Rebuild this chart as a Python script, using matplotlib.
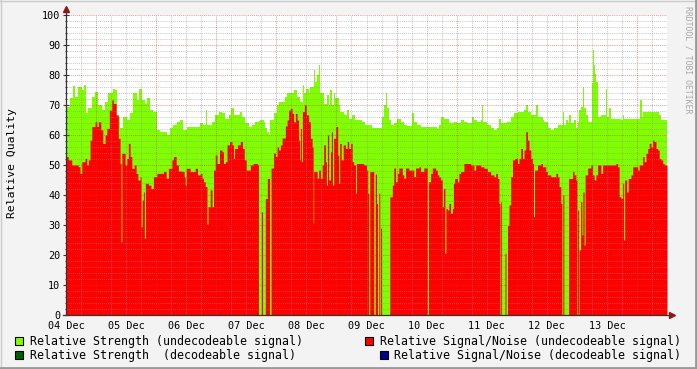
import matplotlib
matplotlib.use("Agg")
import matplotlib.pyplot as plt
from matplotlib.patches import Rectangle
from matplotlib.lines import Line2D
import numpy as np

# ---------------- data (hours since start of graph, ~04 Dec 12:00) ----------------
green_hours = [0.0, 1.6, 2.7, 3.6, 4.9, 6.3, 7.2, 8.0, 8.9, 10.3, 11.6, 12.9, 14.3, 15.6, 16.9, 18.7, 19.6,
               20.5, 21.6, 22.9, 24.3, 25.6, 26.9, 28.3, 29.3, 30.3, 31.6, 32.5, 33.6, 34.9, 36.3, 37.6,
               40.3, 41.6, 42.9, 44.3, 45.6, 46.9, 48.3, 53.6, 54.9, 55.9, 56.3, 58.3, 59.6, 60.9, 62.3,
               63.6, 64.9, 65.9, 66.9, 69.3, 70.3, 71.6, 72.9, 74.3, 75.6, 76.9, 77.6, 78.9, 79.6, 80.3,
               80.9, 81.6, 82.9, 84.3, 84.9, 87.6, 88.3, 90.9, 92.3, 93.6, 94.7, 95.2, 96.0, 96.9, 97.6,
               98.9, 99.6, 100.3, 100.9, 101.6, 102.9, 104.3, 104.9, 105.6, 106.3, 106.9, 107.6, 108.9,
               109.6, 110.9, 112.3, 112.9, 114.3, 115.6, 118.3, 119.6, 122.3, 126.3, 126.9, 127.6, 128.3,
               128.9, 129.6, 130.9, 132.3, 133.6, 134.9, 136.3, 138.3, 138.9, 140.3, 141.6, 148.3, 148.9,
               149.6, 150.9, 152.9, 154.9, 156.3, 157.6, 158.9, 160.3, 162.3, 162.9, 164.3, 165.6, 166.3,
               166.7, 168.3, 169.6, 170.9, 172.3, 172.9, 173.6, 176.3, 177.6, 178.9, 180.3, 182.9, 183.6,
               184.3, 185.6, 187.6, 188.3, 190.3, 190.9, 192.3, 193.6, 194.9, 196.3, 198.3, 198.9, 199.6,
               200.3, 200.9, 201.6, 202.9, 203.6, 204.3, 204.9, 205.6, 206.3, 206.7, 207.6, 208.3, 210.0,
               210.3, 210.7, 211.2, 211.6, 212.3, 213.6, 215.6, 216.0, 216.9, 217.6, 221.6, 222.3, 222.9,
               229.3, 229.9, 230.3, 236.9, 237.6, 240.0]
green_values = [69.4, 72.2, 76.3, 72.8, 76, 75, 76.7, 67.2, 69, 72.8, 74.4, 70, 68.3, 71.1, 73.9, 75.2, 75,
                66.1, 62.2, 66.1, 65, 67.2, 73.9, 71.7, 75.5, 71.7, 70.5, 72.2, 68.3, 67.8, 61.7, 61.1,
                60, 62.2, 63.3, 64.4, 65, 61.7, 62.8, 63.9, 63.3, 68.3, 63.3, 64.4, 66.7, 67.8, 67.2,
                65.5, 66.7, 68.9, 66.7, 67.8, 66.1, 63.9, 62.8, 63.3, 64.4, 64.8, 65, 64.4, 62.2, 61.1,
                60, 65, 67.2, 70, 71.1, 72.8, 73.9, 75, 72.8, 71.1, 76.7, 73.9, 75.5, 73.9, 76.1,
                81.7, 77.8, 80, 83.3, 73.9, 70.5, 73.3, 70, 75, 70, 73.9, 72.2, 70,
                67.8, 66.7, 68.3, 65.5, 66.7, 65, 64.4, 63.3, 62.2, 66.1, 70, 73.9, 68.9,
                65, 63.3, 63.9, 65.5, 64.4, 63.3, 63, 67.2, 64.4, 63.3, 62.6, 61.9, 63.3,
                66.1, 65.5, 63.9, 64.4, 63.9, 65, 64.4, 63.9, 66.1, 65, 64.4, 65, 70,
                64.4, 63.3, 62.2, 61.7, 62.2, 65.5, 63.9, 64.4, 66.1, 67.2, 67.8, 68.3, 70,
                67.8, 66.7, 70, 66.1, 65, 64.4, 62.2, 61.7, 62.2, 63.3, 67.8, 63.3, 65,
                63.9, 66.7, 63.9, 65, 62.2, 64.4, 68.3, 69.4, 76.1, 68.9, 66.7, 64.4, 77.2,
                88.3, 83.3, 80.5, 77.8, 66.1, 66.7, 75.5, 66.1, 68.9, 65.5, 65, 66.7, 65.5,
                71.7, 66.1, 67.8, 66.7, 65, 65]

red_hours = [0.0, 0.9, 2.3, 4.9, 5.6, 6.3, 7.6, 8.3, 8.9, 9.6, 10.3, 11.6, 12.3, 12.9, 13.9, 14.7, 15.6,
             16.3, 17.3, 18.3, 18.9, 20.0, 20.9, 21.6, 22.0, 22.3, 23.6, 24.3, 24.9, 25.6, 26.3, 27.2,
             28.0, 28.7, 29.6, 30.0, 30.4, 30.9, 31.3, 31.7, 32.9, 33.9, 34.9, 36.3, 38.9, 40.0, 40.9,
             42.3, 42.9, 44.0, 44.9, 46.3, 47.2, 47.6, 48.0, 49.6, 51.6, 52.5, 53.6, 54.3, 54.9, 55.6,
             56.3, 56.7, 57.6, 58.3, 58.9, 59.6, 60.3, 61.3, 62.3, 62.9, 63.6, 64.3, 65.3, 66.3, 66.9,
             67.3, 68.5, 69.6, 70.5, 71.2, 72.0, 73.6, 74.7, 76.5, 76.9, 78.0, 78.5, 79.6, 80.4, 81.3,
             81.9, 82.9, 83.6, 84.3, 84.9, 85.6, 86.3, 87.6, 88.3, 88.9, 89.6, 90.3, 90.9, 91.6, 92.3,
             92.9, 93.3, 93.6, 94.0, 94.4, 95.2, 96.0, 96.9, 97.6, 98.3, 98.7, 98.9, 100.3, 100.9, 101.6,
             102.3, 102.9, 103.6, 104.0, 104.4, 104.9, 105.6, 106.0, 106.4, 106.9, 107.7, 108.5, 108.9,
             109.3, 109.9, 110.7, 111.6, 112.3, 112.9, 113.6, 114.3, 114.9, 115.6, 116.0, 118.9, 120.0,
             120.5, 120.9, 121.3, 122.9, 123.5, 124.0, 124.4, 124.9, 125.3, 125.6, 126.0, 129.3, 130.3,
             130.9, 131.6, 132.3, 132.9, 134.3, 134.9, 135.6, 136.9, 138.9, 139.6, 140.9, 141.6, 142.9,
             144.3, 144.7, 145.6, 146.3, 147.6, 148.3, 148.9, 149.6, 150.3, 150.7, 151.3, 151.7, 152.3,
             152.9, 153.6, 154.3, 154.7, 155.2, 156.3, 156.9, 157.6, 158.9, 161.6, 162.9, 163.6, 165.6,
             166.9, 168.3, 169.6, 170.9, 171.6, 172.3, 172.9, 173.3, 173.6, 173.9, 175.3, 175.7, 176.3,
             176.9, 177.6, 178.3, 179.2, 180.3, 180.9, 181.6, 182.3, 182.9, 183.6, 184.3, 184.9, 185.6,
             186.3, 186.7, 187.1, 188.3, 189.6, 190.3, 191.6, 192.3, 193.6, 195.6, 196.3, 196.9, 197.6,
             198.0, 198.4, 198.8, 200.7, 202.3, 202.9, 203.6, 204.0, 204.3, 204.7, 204.9, 205.5, 206.0,
             206.4, 206.9, 207.3, 208.3, 209.6, 210.3, 210.9, 211.6, 212.3, 213.6, 214.3, 219.6, 220.3,
             220.9, 221.6, 222.3, 222.7, 223.1, 223.9, 224.5, 225.6, 226.3, 228.3, 228.9, 230.3, 230.9,
             231.6, 232.3, 232.9, 233.6, 234.3, 234.9, 235.6, 236.3, 236.9, 237.6, 238.3, 238.9, 240.0]
red_values = [52.8, 51.7, 50, 49.4, 47.2, 51.1, 52.2, 50, 51.7, 58.3, 62.8, 64.4, 62.8, 64.4, 61.7, 57.2, 60,
              62.2, 68.3, 71.7, 70.5, 66.7, 58.9, 50.5, 24.4, 53.9, 50, 52.2, 57.2, 52.8, 48.9, 50,
              47.2, 45, 46.1, 29.4, 38.3, 41, 25.6, 43.9, 43.3, 42.2, 46.1, 47.2, 47.8, 45.6, 48.9,
              51.7, 52.8, 50, 48, 47.8, 46, 43.3, 48.9, 47.8, 48.9, 46.7, 47.2, 45.6, 44.4, 42.8,
              30.3, 36.1, 41.7, 36.1, 48.3, 53.3, 50.5, 55, 54.4, 50.5, 51.1, 56.7, 57.8, 56.7, 52.2,
              55.5, 56.7, 57.8, 55.5, 51.7, 48.3, 50, 50.5, 50, 0, 34.4, 0, 38.8, 45.5, 0,
              49, 54, 52.8, 56, 55, 56.7, 59, 63, 65, 68.3, 68.9, 67.2, 64.4, 67.2, 65,
              58.3, 51.7, 62.2, 51.1, 67.8, 70, 66.7, 64.4, 58.9, 56, 30.7, 47.8, 45.6, 48.3, 45.6,
              50, 56.7, 51.1, 43.3, 60, 45, 54.4, 61.1, 43.3, 58.9, 62.8, 53.3, 43.9,
              57.2, 51.7, 56.7, 55.5, 57.8, 55.5, 57.2, 51.1, 50, 40.6, 50.5, 50, 48.3,
              40.6, 0, 47.8, 0, 47, 37.2, 0, 40.6, 0, 29, 0, 39.4, 43.3,
              49, 44.4, 47.2, 49, 46.7, 45.6, 49, 48.3, 46.1, 49, 49.4, 47.8, 49,
              0, 44.4, 47.2, 49, 48.3, 46.7, 46, 45, 36.1, 42.2, 20.6, 35.5, 35,
              37.2, 33.9, 35.5, 43.9, 45.5, 44.4, 47.2, 47.8, 50.5, 50, 48.3, 50, 49.4,
              48.9, 47.8, 46.7, 46.1, 47.2, 45.5, 37.2, 0, 37.8, 0, 20.6, 0, 29.8,
              36.7, 46.1, 51.7, 52.2, 50.5, 52.2, 55.5, 52.2, 55, 61.1, 58.3, 55, 52.2,
              50.5, 32.8, 48.3, 50, 50.5, 49.4, 47.8, 46.7, 46.1, 47.2, 46.1, 42.8, 37.2,
              0, 40, 0, 45.5, 47.8, 46.7, 45, 0, 35, 0, 21.7, 37.8, 26.7,
              41, 23.3, 46.7, 49, 50, 46.7, 45, 46.7, 50, 47.2, 50, 50.5, 49.4,
              39.4, 38.9, 43.9, 25, 45, 41, 45.5, 46.7, 49.4, 48.3, 50, 52.8, 51.1,
              53.9, 55.5, 57.2, 56, 58.3, 57.8, 55.5, 55, 52.2, 51.7, 50.5, 50, 50]

day_labels = ["04 Dec", "05 Dec", "06 Dec", "07 Dec", "08 Dec", "09 Dec",
              "10 Dec", "11 Dec", "12 Dec", "13 Dec"]
y_ticks = [0, 10, 20, 30, 40, 50, 60, 70, 80, 90, 100]

legend_items = [
    ("Relative Strength (undecodeable signal)", "#80FF00"),
    ("Relative Strength  (decodeable signal)", "#006000"),
    ("Relative Signal/Noise (undecodeable signal)", "#FF0000"),
    ("Relative Signal/Noise (decodeable signal)", "#000090"),
]

# ---------------- figure ----------------
W, H = 697, 369
MONO = "DejaVu Sans Mono"
fig = plt.figure(figsize=(W / 100, H / 100), dpi=100, facecolor="#F3F3F3")
ax = fig.add_axes([66 / W, (H - 315) / H, 601 / W, 300 / H])
ax.set_facecolor("white")
ax.set_xlim(0, 240)
ax.set_ylim(0, 100)

ax.fill_between(green_hours, 0, green_values, step="post", color="#80FF00", lw=0, zorder=1)
ax.fill_between(red_hours, 0, red_values, step="post", color="#FF0000", lw=0, zorder=2)

# grid (drawn on top, RRDtool style)
minor_x = np.arange(6, 240, 6)
major_x = np.arange(12, 240, 24)
minor_y = np.arange(2, 100, 2)
for xv in minor_x:
    if xv not in major_x:
        ax.axvline(xv, color="#8C8C8C", alpha=0.45, lw=0.75, ls=(0, (1, 1)), zorder=3)
for yv in minor_y:
    if yv % 10:
        ax.axhline(yv, color="#8C8C8C", alpha=0.45, lw=0.75, ls=(0, (1, 1)), zorder=3)
for xv in major_x:
    ax.axvline(xv, color="#C83232", alpha=0.45, lw=0.75, ls=(0, (1, 1)), zorder=4)
for yv in y_ticks[1:]:
    ax.axhline(yv, color="#C83232", alpha=0.45, lw=0.75, ls=(0, (1, 1)), zorder=4)

for s in ax.spines.values():
    s.set_visible(False)

ax.set_yticks(y_ticks)
ax.set_yticklabels([str(v) for v in y_ticks], family=MONO, fontsize=7.3)
ax.set_xticks(np.arange(0, 240, 24))
ax.set_xticklabels(day_labels, family=MONO, fontsize=7.3)
ax.tick_params(axis="x", length=0, pad=4)
ax.tick_params(axis="y", length=4, direction="inout", color="#333333", width=0.8, pad=2)
ax.set_yticks(minor_y, minor=True)
ax.tick_params(axis="y", which="minor", length=2, direction="inout", color="#333333", width=0.8)

# axes lines and arrows
ax.plot([0, 0], [0, 1.015], transform=ax.transAxes, color="#333333", lw=0.9, clip_on=False, zorder=6)
ax.plot([-0.005, 1.004], [0, 0], transform=ax.transAxes, color="#333333", lw=0.9, clip_on=False, zorder=6)
ax.plot([0], [1.02], transform=ax.transAxes, marker="^", ms=4.5, color="#8B1A1A",
        clip_on=False, zorder=7)
ax.plot([1.008], [0], transform=ax.transAxes, marker=">", ms=4.5, color="#8B1A1A",
        clip_on=False, zorder=7)

# y label
fig.text(12 / W, 1 - 163 / H, "Relative Quality", rotation=90, family=MONO, fontsize=8.2,
         ha="center", va="center")

# watermark
fig.text(688 / W, 1 - 60 / H, "RRDTOOL / TOBI OETIKER", rotation=270, family=MONO,
         fontsize=5.9, color="#A8A8A8", ha="center", va="center")

# legend
leg_pos = [(15, 341, 30), (15, 355, 30), (365, 341, 380), (380, 355, 394)]
for (label, col), (bx, by, tx) in zip(legend_items, leg_pos):
    fig.add_artist(Rectangle((bx / W, 1 - (by + 4) / H), 8 / W, 8 / H, transform=fig.transFigure,
                             facecolor=col, edgecolor="black", lw=0.8))
    fig.text(tx / W, 1 - by / H, label, family=MONO, fontsize=8.4, ha="left", va="center")

# frame shading
fig.add_artist(Line2D([0, 1], [1 - 0.5 / H, 1 - 0.5 / H], transform=fig.transFigure, color="#CBCBCB", lw=1))
fig.add_artist(Line2D([0.5 / W, 0.5 / W], [0, 1], transform=fig.transFigure, color="#CBCBCB", lw=1))
fig.add_artist(Line2D([0, 1], [1.5 / H, 1.5 / H], transform=fig.transFigure, color="#999999", lw=2))
fig.add_artist(Line2D([1 - 1.5 / W, 1 - 1.5 / W], [0, 1], transform=fig.transFigure, color="#999999", lw=2))

fig.savefig("out.png", dpi=100, facecolor=fig.get_facecolor())
